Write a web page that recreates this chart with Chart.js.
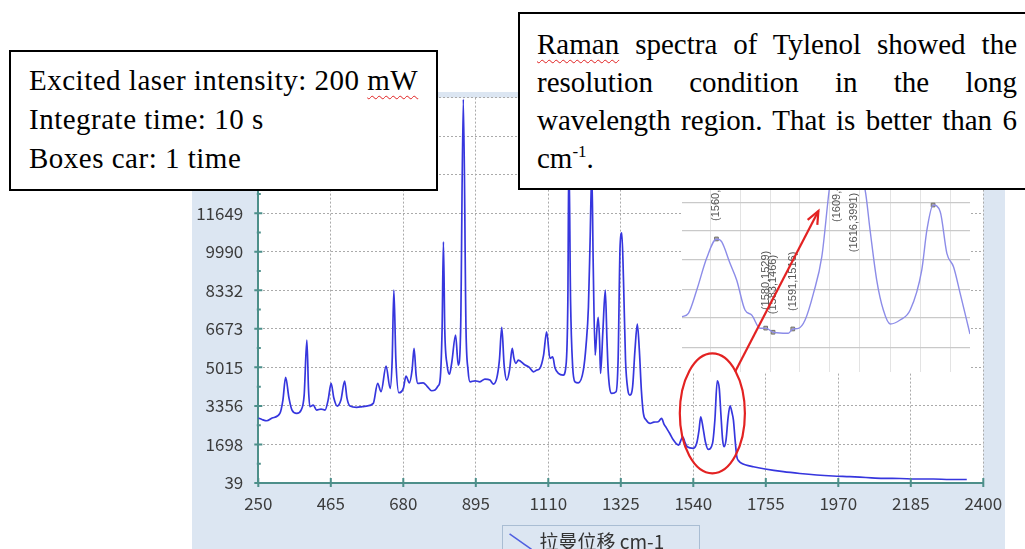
<!DOCTYPE html>
<html>
<head>
<meta charset="utf-8">
<script src="https://cdn.jsdelivr.net/npm/chart.js@4.4.0/dist/chart.umd.min.js"></script>
<style>
html,body{margin:0;padding:0;width:1025px;height:549px;overflow:hidden;background:#fff;}
#main{position:absolute;left:192px;top:92px;background:#dce6f2;}
#inset{position:absolute;left:670px;top:100px;}
.box{position:absolute;background:#fff;border:2px solid #000;box-sizing:border-box;font-family:"Liberation Serif","Times New Roman",serif;color:#000;z-index:5;}
#left{left:9px;top:50px;width:429px;height:141px;padding:9px 0 0 18px;font-size:29px;line-height:39px;letter-spacing:0.5px;white-space:nowrap;}
#right{left:518px;top:12px;width:540px;height:178px;padding:11px 39px 0 17px;font-size:29px;line-height:38px;text-align:justify;}
.wavy{text-decoration:underline wavy #e02020;text-decoration-thickness:1px;text-underline-offset:5px;}
sup{font-size:17px;line-height:0;vertical-align:11px;}
</style>
</head>
<body>
<canvas id="main" width="813" height="470"></canvas>
<canvas id="inset" width="335" height="385"></canvas>
<div class="box" id="left">Excited laser intensity: 200 <span class="wavy">mW</span><br>Integrate time: 10 s<br>Boxes car: 1 time</div>
<div class="box" id="right"><span class="wavy">Raman</span> spectra of Tylenol showed the resolution condition in the long wavelength region. That is better than 6 cm<sup>-1</sup>.</div>
<script>
// ---- main spectrum (Raman shift, intensity) ----
const ramanShift = [
  250,261,275,291,314,323,331,341,350,364,
  377,386,394,399,403,413,423,436,448,457,
  466,474,484,495,506,513,522,542,558,571,
  591,604,614,629,641,647,652,658,667,680,
  688,698,706,712,718,723,739,750,764,774,
  783,789,795,799,803,810,817,824,835,843,
  850,858,866,872,878,893,907,922,937,947,
  957,965,972,979,987,995,1003,1008,1014,1021,
  1041,1053,1066,1076,1085,1096,1105,1115,1123,1130,
  1140,1154,1162,1168,1171,1176,1182,1189,1199,1214,
  1222,1229,1234,1239,1243,1249,1254,1258,1262,1265,
  1272,1279,1284,1288,1298,1311,1317,1323,1328,1333,
  1339,1346,1352,1360,1367,1374,1380,1386,1392,1400,
  1412,1423,1436,1446,1453,1461,1471,1481,1496,1509,
  1515,1522,1540,1550,1557,1562,1569,1576,1584,1597,
  1604,1611,1617,1622,1627,1631,1637,1643,1649,1655,
  1659,1664,1669,1675,1683,1696,1718,1753,1807,1856,
  1906,1954,2004,2052,2103,2153,2200,2252,2301,2351
];
const intensity = [
  2834,2770,2718,2834,3036,3608,4584,3694,3178,3036,
  3178,3823,6188,4038,3320,3393,3178,3221,3178,3608,
  4326,3694,3350,3608,4425,3694,3350,3294,3328,3350,
  3466,4326,3965,5070,4110,5328,8338,5328,3922,4110,
  4640,4352,4898,5831,4683,4326,4352,4210,4008,4038,
  4210,4468,6618,10415,6618,5113,4726,5255,6403,5113,
  6618,16550,6618,4898,4395,4438,4395,4511,4468,4296,
  4541,5328,6734,5113,4468,4898,5831,5414,5186,5328,
  5113,5027,4825,4898,4970,5543,6545,5400,5470,4984,
  4756,4683,5040,7908,14200,7908,5113,4395,4352,4898,
  5973,7620,10488,13500,9628,5543,6618,7164,6188,4756,
  6618,8338,6188,4756,3896,3965,5328,10273,10802,8768,
  5328,4038,3823,4180,5758,6876,5758,4038,3036,2748,
  2606,2662,2675,2821,2576,2391,2146,1888,1673,2030,
  1802,1600,1531,1746,2318,2890,2404,1802,1488,1746,
  2748,4438,4110,2963,1888,1600,1888,2834,3363,3049,
  2748,1888,1170,985,886,813,740,641,525,447,
  383,340,310,276,241,233,211,211,190,190
];
const xTicks = [250,465,680,895,1110,1325,1540,1755,1970,2185,2400];
const yTicks = [39,1698,3356,5015,6673,8332,9990,11649,13307,14966,16624];
const seriesName = '拉曼位移 cm-1';

// ---- inset (zoomed region) ----
const insetX = [1546,1548.6,1552,1556,1560,1562.1,1565.5,1568.2,1571.6,1574.3,
  1577.7,1580,1583,1584.5,1589.2,1591,1593.3,1596,1599.4,1602.8,
  1605.8,1609,1614,1616,1620.4,1622.4,1625.1,1627.8,1630.6,1634.6,
  1638.7,1643.4,1645.5,1648,1650.9,1653.6,1656.3,1659,1663];
const insetY = [1703,1755,2111,2595,2890,2848,2518,2263,1805,1729,
  1526,1529,1466,1459,1450,1516,1526,1653,2060,2619,
  3637,4452,3750,3991,3637,3027,2263,1805,1592,1653,
  1805,2416,3027,3408,3306,2671,2466,2060,1439];
const insetGridX = [1557.4,1569.6,1581.8,1593.9,1606.1,1618.3,1630.5,1642.7,1654.9];
const insetGridY = [1236,1688,2121,2569,3011,3443,3882,4320,4760];
const annotX = [1560,1580,1583,1591,1609,1616,1648];
const annotY = [2890,1529,1466,1516,4452,3991,3408];

// ---- red highlight (main-chart data coords) ----
const ellipseX = [1500,1693];
const ellipseY = [456,5616];
const arrowX = [1664,1911];
const arrowY = [4825,11748];

Chart.defaults.font.family = '"Noto Sans CJK SC", "Noto Sans", sans-serif';

const teal = '#4d8f8a';
const mainPlugin = {
  id:'mainDeco',
  beforeDraw(chart){
    const {ctx, chartArea:a} = chart;
    ctx.save();
    ctx.fillStyle = '#ffffff';
    ctx.fillRect(a.left, a.top, a.right-a.left, a.bottom-a.top);
    const hb = chart.legend && chart.legend.legendHitBoxes && chart.legend.legendHitBoxes[0];
    if (hb){
      ctx.strokeStyle = '#a9bdd3';
      ctx.lineWidth = 1;
      ctx.strokeRect(Math.round(hb.left-9)+0.5, 433.5, Math.round(hb.width+44), 60);
    }
    ctx.restore();
  },
  afterDraw(chart){
    const {ctx, chartArea:a, scales:{x,y}} = chart;
    ctx.save();
    ctx.strokeStyle = teal; ctx.lineWidth = 2;
    ctx.beginPath();
    yTicks.forEach((v,i)=>{
      const p = y.getPixelForValue(v);
      ctx.moveTo(a.left-4,p); ctx.lineTo(a.left+4,p);
      if (i<yTicks.length-1){
        const q = y.getPixelForValue((v+yTicks[i+1])/2);
        ctx.moveTo(a.left-1.5,q); ctx.lineTo(a.left+2.5,q);
      }
    });
    xTicks.forEach(v=>{
      const p = x.getPixelForValue(v);
      ctx.moveTo(p,a.bottom-5); ctx.lineTo(p,a.bottom+4);
    });
    ctx.stroke();
    ctx.restore();
  }
};

const mainChart = new Chart(document.getElementById('main'), {
  type:'line',
  data:{datasets:[{
    label: seriesName,
    data: ramanShift.map((v,i)=>({x:v, y:intensity[i]})),
    borderColor:'#3636de', borderWidth:1.7, pointRadius:0,
    cubicInterpolationMode:'monotone', fill:false
  }]},
  options:{
    responsive:false, animation:false,
    layout:{padding:{left:0,right:21.7,top:5.6,bottom:0.9}},
    plugins:{
      tooltip:{enabled:false},
      legend:{position:'bottom', labels:{
        usePointStyle:true, padding:10, color:'#333',
        font:{size:19},
        generateLabels(chart){
          const items = Chart.defaults.plugins.legend.labels.generateLabels(chart);
          items.forEach(it=>{ it.pointStyle='line'; it.rotation=35; it.strokeStyle='#4f5fe0'; it.lineWidth=1.5; });
          return items;
        }
      }}
    },
    scales:{
      x:{type:'linear', min:250, max:2400,
        afterBuildTicks:s=>{ s.ticks = xTicks.map(v=>({value:v})); },
        afterFit:s=>{ s.height = 39.1; s.paddingLeft=0; s.paddingRight=0; },
        grid:{color:'#aaaaaa', lineWidth:1, drawTicks:false},
        border:{color:teal, width:2, dash:[2,2]},
        ticks:{padding:10, color:'#3c3c3c', font:{size:17}, maxRotation:0, autoSkip:false, callback:v=>String(v)}
      },
      y:{type:'linear', min:yTicks[0], max:yTicks[yTicks.length-1],
        afterBuildTicks:s=>{ s.ticks = yTicks.map(v=>({value:v})); },
        afterFit:s=>{ s.width = 66.3; s.paddingTop=0; s.paddingBottom=0; },
        grid:{color:'#aaaaaa', lineWidth:1, drawTicks:false},
        border:{color:teal, width:2, dash:[2,2]},
        ticks:{padding:15, color:'#3c3c3c', font:{size:17}, autoSkip:false, callback:v=>String(v)}
      }
    }
  },
  plugins:[mainPlugin]
});

const insetPlugin = {
  id:'insetDeco',
  beforeDraw(chart){
    const {ctx, chartArea:a} = chart;
    ctx.save(); ctx.fillStyle='#ffffff';
    ctx.fillRect(a.left, a.top, a.right-a.left, a.bottom-a.top);
    ctx.restore();
  },
  afterDraw(chart){
    const {ctx, chartArea:a, scales:{x,y}} = chart;
    ctx.save();
    ctx.font = '11px "Liberation Sans", Arial, sans-serif';
    ctx.fillStyle = '#555';
    ctx.textBaseline = 'middle'; ctx.textAlign = 'left';
    annotX.forEach((v,i)=>{
      const px = x.getPixelForValue(v), py = y.getPixelForValue(annotY[i]);
      const t = '(' + v + ',' + annotY[i] + ')';
      const w = ctx.measureText(t).width;
      let sy = py - 18;
      if (sy - w < a.top) sy = py + 26 + w;
      ctx.save(); ctx.translate(px, sy); ctx.rotate(-Math.PI/2); ctx.fillText(t,0,0); ctx.restore();
    });
    // red ellipse + arrow, positioned with the main chart's scales
    const r1 = mainChart.canvas.getBoundingClientRect(), r2 = chart.canvas.getBoundingClientRect();
    const ox = r1.left - r2.left, oy = r1.top - r2.top;
    const mx = v => mainChart.scales.x.getPixelForValue(v) + ox;
    const my = v => mainChart.scales.y.getPixelForValue(v) + oy;
    ctx.strokeStyle = '#e32222'; ctx.lineWidth = 2.2;
    const ex0 = mx(ellipseX[0]), ex1 = mx(ellipseX[1]), ey0 = my(ellipseY[1]), ey1 = my(ellipseY[0]);
    ctx.beginPath();
    ctx.ellipse((ex0+ex1)/2, (ey0+ey1)/2, (ex1-ex0)/2, (ey1-ey0)/2, 0, 0, Math.PI*2);
    ctx.stroke();
    const sx = mx(arrowX[0]), sy = my(arrowY[0]), tx = mx(arrowX[1]), ty = my(arrowY[1]);
    ctx.beginPath(); ctx.moveTo(sx,sy); ctx.lineTo(tx,ty); ctx.stroke();
    const ang = Math.atan2(ty-sy, tx-sx), L = 14;
    ctx.beginPath();
    ctx.moveTo(tx - L*Math.cos(ang-0.4), ty - L*Math.sin(ang-0.4));
    ctx.lineTo(tx, ty);
    ctx.lineTo(tx - L*Math.cos(ang+0.4), ty - L*Math.sin(ang+0.4));
    ctx.stroke();
    ctx.restore();
  }
};

const insetChart = new Chart(document.getElementById('inset'), {
  type:'line',
  data:{datasets:[
    {data: insetX.map((v,i)=>({x:v, y:insetY[i]})), borderColor:'#8c8ce8', borderWidth:1.4,
     pointRadius:0, cubicInterpolationMode:'monotone', fill:false},
    {data: annotX.map((v,i)=>({x:v, y:annotY[i]})), showLine:false, pointStyle:'rect',
     pointRadius:2.6, backgroundColor:'#c4bb8c', borderColor:'#6d6d6d', borderWidth:1}
  ]},
  options:{
    responsive:false, animation:false,
    layout:{padding:{left:12,right:35,top:5,bottom:113}},
    plugins:{legend:{display:false}, tooltip:{enabled:false}},
    scales:{
      x:{type:'linear', min:1546, max:1663,
        afterBuildTicks:s=>{ s.ticks = insetGridX.map(v=>({value:v})); },
        afterFit:s=>{ s.height=0; s.paddingLeft=0; s.paddingRight=0; },
        grid:{color:'#e3e3e3', lineWidth:1, drawTicks:false},
        border:{display:false}, ticks:{display:false}
      },
      y:{type:'linear', min:859, max:4935,
        afterBuildTicks:s=>{ s.ticks = insetGridY.map(v=>({value:v})); },
        afterFit:s=>{ s.width=0; s.paddingTop=0; s.paddingBottom=0; },
        grid:{color:'#c9c9c9', lineWidth:1.2, drawTicks:false},
        border:{display:false}, ticks:{display:false}
      }
    }
  },
  plugins:[insetPlugin]
});
</script>
</body>
</html>
